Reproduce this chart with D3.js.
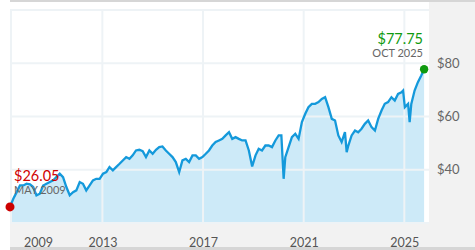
<!DOCTYPE html>
<html>
<head>
<meta charset="utf-8">
<script src="https://cdn.jsdelivr.net/npm/d3@7"></script>
<style>
  body { margin: 0; background: #fff; }
  svg { display: block; font-family: Lato, "Open Sans", sans-serif; }
</style>
</head>
<body>
<svg id="chart"></svg>
<script>
// price history
var dates = ["2009-05-01","2009-06-18","2009-08-06","2009-09-23","2009-11-11","2009-12-28","2010-02-15","2010-04-03","2010-05-20","2010-07-08",
  "2010-08-25","2010-10-13","2010-12-01","2011-01-18","2011-03-05","2011-04-23","2011-06-10","2011-07-28","2011-09-15","2011-11-02",
  "2011-12-20","2012-02-07","2012-03-25","2012-05-12","2012-06-30","2012-08-17","2012-10-04","2012-11-22","2013-01-10","2013-02-27",
  "2013-04-14","2013-06-02","2013-07-19","2013-09-07","2013-10-24","2013-12-12","2014-01-29","2014-03-17","2014-05-04","2014-06-21",
  "2014-08-09","2014-09-26","2014-11-14","2015-01-01","2015-02-18","2015-04-06","2015-05-23","2015-07-11","2015-08-28","2015-10-16",
  "2015-12-03","2016-01-21","2016-03-08","2016-04-26","2016-06-13","2016-08-01","2016-09-18","2016-11-05","2016-12-23","2017-02-10",
  "2017-03-28","2017-05-15","2017-07-03","2017-08-20","2017-10-08","2017-11-25","2018-01-13","2018-03-01","2018-04-18","2018-06-05",
  "2018-07-23","2018-09-10","2018-10-28","2018-12-15","2019-02-02","2019-03-20","2019-05-07","2019-06-25","2019-08-12","2019-09-29",
  "2019-11-17","2020-01-04","2020-02-12","2020-03-16","2020-04-09","2020-05-27","2020-07-14","2020-09-01","2020-10-19","2020-12-06",
  "2021-01-24","2021-03-11","2021-04-29","2021-06-16","2021-08-04","2021-09-21","2021-11-08","2021-12-26","2022-02-13","2022-04-01",
  "2022-05-19","2022-07-06","2022-08-23","2022-09-17","2022-10-11","2022-11-28","2023-01-16","2023-03-03","2023-04-21","2023-06-08",
  "2023-07-26","2023-09-13","2023-11-01","2023-12-18","2024-02-05","2024-03-23","2024-05-10","2024-06-28","2024-08-15","2024-10-02",
  "2024-11-20","2024-12-14","2025-01-08","2025-02-25","2025-03-19","2025-04-12","2025-05-30","2025-07-17","2025-09-04","2025-10-15"];
var prices = [26.05,29.1,31.6,34.1,34.1,34.75,34.5,33.5,30.4,31,
  34.1,34.75,35.4,36,37.25,38.5,37.25,33.5,30.4,31.6,
  32.25,35.4,34.75,32.25,34.1,36,36.6,36.6,38.5,39.1,
  41,39.75,41,42.25,43.5,44.75,44.1,45.4,47.25,47.5,
  47,44.75,47.25,46,47.5,48.5,48.75,47.25,46,44.75,
  42.9,39.1,43.5,44.1,42.9,45.4,45.4,44.1,44.75,46,
  47.25,49.1,50.4,51,51.6,52.9,54.1,51.6,52.25,51.6,
  51,51,47.25,41.25,45.4,47.9,47.25,49.1,49.1,48.5,
  51,52.9,52.9,36.6,44.75,48.5,52.25,53.5,51.6,57.9,
  61,63.5,64.75,64.75,65.4,66.6,67.25,63.5,59.1,58.5,
  52.9,50.4,54.1,46.6,49.1,52.9,54.75,54.1,55.4,57.25,
  58.5,56,54.75,59.1,62.25,64.75,65.4,67.25,66,68.5,
  69.1,69.75,63.5,64.75,57.9,64.75,69.75,72.9,75.4,77.75];

var xTicks = ["2009","2013","2017","2021","2025"];
var yGrid = [20, 40, 60, 80, 100];
var yLabels = [40, 60, 80];

var frameWidth = 475;
var frameHeight = 250;
var plotL = 10, plotR = 429, plotT = 10, plotB = 223;

var parse = d3.timeParse("%Y-%m-%d");
var data = dates.map(function(d, i) { return { date: parse(d), price: prices[i] }; });

var svg = d3.select("#chart")
  .attr("width", frameWidth)
  .attr("height", frameHeight);

var x = d3.scaleTime()
  .domain([parse("2009-05-01"), parse("2025-12-25")])
  .range([plotL, plotR]);
var y = d3.scaleLinear()
  .domain([20, 100])
  .range([plotB, plotT]);

// gray frame pieces
svg.append("rect").attr("x", plotL).attr("y", 0).attr("width", frameWidth - plotL).attr("height", 2).attr("fill", "#d6d6d6");
svg.append("rect").attr("x", plotR).attr("y", 2).attr("width", frameWidth - plotR).attr("height", 245).attr("fill", "#f2f2f2");
svg.append("rect").attr("x", plotL).attr("y", plotB).attr("width", frameWidth - plotL).attr("height", 24).attr("fill", "#f2f2f2");
svg.append("rect").attr("x", plotL).attr("y", 247).attr("width", frameWidth - plotL).attr("height", 3).attr("fill", "#d6d6d6");

// area under the line
var area = d3.area()
  .x(function(d) { return x(d.date); })
  .y0(plotB)
  .y1(function(d) { return y(d.price); });

svg.append("path")
  .datum(data)
  .attr("fill", "#cdeaf8")
  .attr("d", area);

// gridlines (drawn over the fill, under the line)
var grid = svg.append("g").attr("stroke", "#eef3f6").attr("stroke-width", 2);
grid.selectAll(".hg").data(yGrid).enter().append("line")
  .attr("x1", plotL).attr("x2", plotR)
  .attr("y1", function(d) { return y(d); })
  .attr("y2", function(d) { return y(d); });
grid.selectAll(".vg").data(xTicks.slice(1)).enter().append("line")
  .attr("x1", function(d) { return x(parse(d + "-01-01")); })
  .attr("x2", function(d) { return x(parse(d + "-01-01")); })
  .attr("y1", plotT).attr("y2", plotB);
grid.append("line").attr("x1", plotL + 1).attr("x2", plotL + 1).attr("y1", plotT).attr("y2", plotB);

var line = d3.line()
  .x(function(d) { return x(d.date); })
  .y(function(d) { return y(d.price); });

svg.append("path")
  .datum(data)
  .attr("fill", "none")
  .attr("stroke", "#1499db")
  .attr("stroke-width", 2.3)
  .attr("stroke-linejoin", "miter")
  .attr("d", line);

// x axis labels
var xAxis = svg.append("g")
  .attr("transform", "translate(0," + plotB + ")")
  .call(d3.axisBottom(x)
    .tickValues(xTicks.map(function(d) { return parse(d + "-01-01"); }))
    .tickFormat(d3.timeFormat("%Y"))
    .tickSize(0)
    .tickPadding(15));
xAxis.select(".domain").remove();
xAxis.selectAll("text")
  .attr("fill", "#555")
  .style("font-size", "12.5px")
  .style("font-family", "Lato, sans-serif");
// first year label sits inside the plot edge
xAxis.selectAll("text").filter(function(d, i) { return i == 0; })
  .attr("x", 38 - x(parse("2009-01-01")));

// y axis labels
var yAxis = svg.append("g")
  .attr("transform", "translate(" + plotR + ",0)")
  .call(d3.axisRight(y)
    .tickValues(yLabels)
    .tickFormat(function(d) { return "$" + d; })
    .tickSize(0)
    .tickPadding(8));
yAxis.select(".domain").remove();
yAxis.selectAll("text")
  .attr("fill", "#666")
  .style("font-size", "13px")
  .style("font-family", "Lato, sans-serif");

// start / end markers
var first = data[0], last = data[data.length - 1];
var fmt = d3.timeFormat("%b %Y");

svg.append("circle")
  .attr("cx", x(first.date)).attr("cy", y(first.price)).attr("r", 4.5)
  .attr("fill", "#cc0000");
svg.append("text")
  .attr("x", x(first.date) + 4).attr("y", 181)
  .attr("fill", "#d00000").style("font-size", "14.5px")
  .text("$" + first.price.toFixed(2));
svg.append("text")
  .attr("x", x(first.date) + 4).attr("y", 194)
  .attr("fill", "#666").style("font-size", "11px")
  .text(fmt(first.date).toUpperCase());

svg.append("circle")
  .attr("cx", x(last.date)).attr("cy", y(last.price)).attr("r", 4.2)
  .attr("fill", "#0f9a0f");
svg.append("text")
  .attr("x", 423).attr("y", 44)
  .attr("text-anchor", "end")
  .attr("fill", "#0f9a0f").style("font-size", "14.5px")
  .text("$" + last.price.toFixed(2));
svg.append("text")
  .attr("x", 423).attr("y", 57)
  .attr("text-anchor", "end")
  .attr("fill", "#666").style("font-size", "11px")
  .text(fmt(last.date).toUpperCase());
</script>
</body>
</html>
